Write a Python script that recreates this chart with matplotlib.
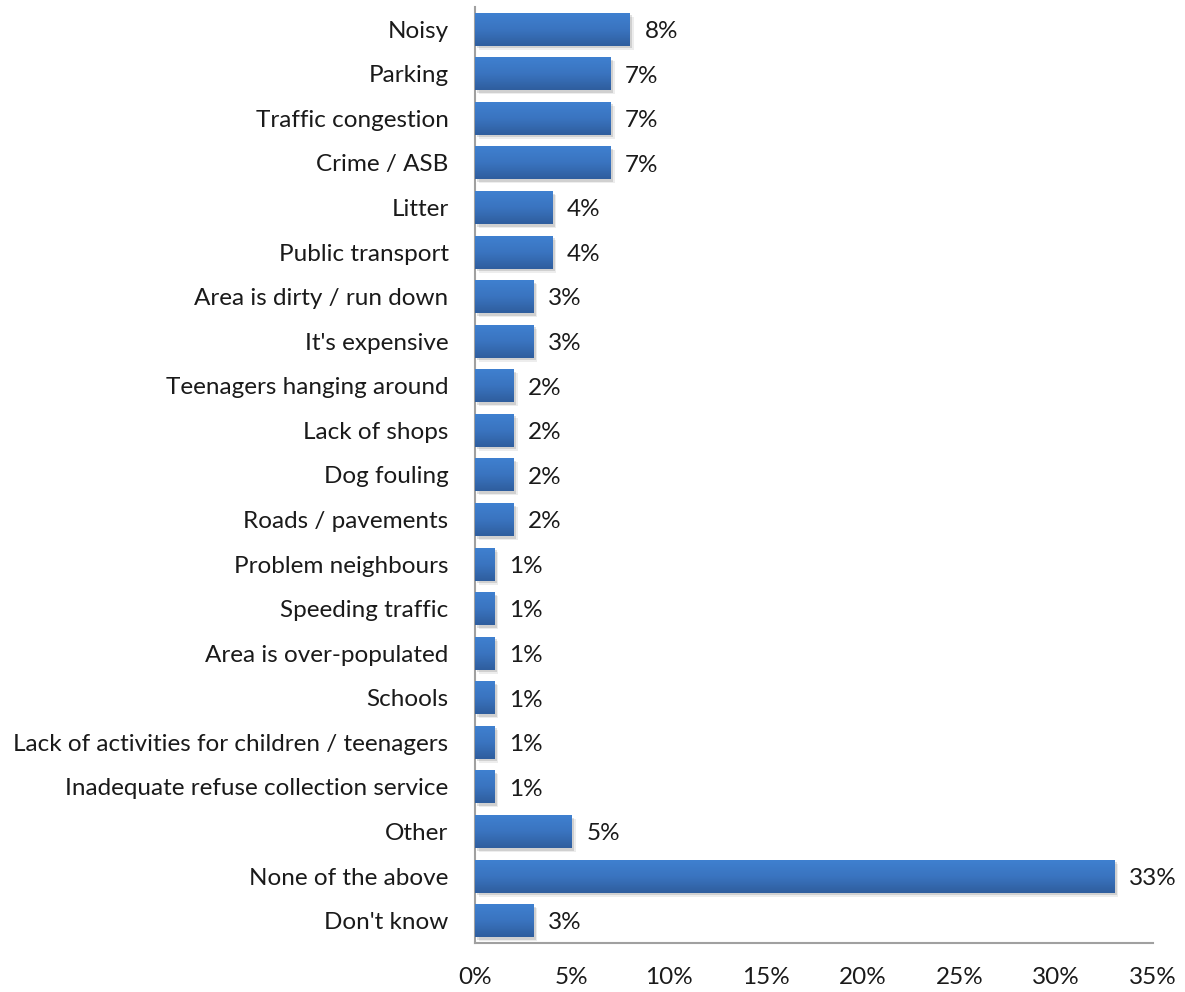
import matplotlib
matplotlib.use("Agg")
import matplotlib.pyplot as plt
import numpy as np
from matplotlib.transforms import ScaledTranslation

categories = [
    "Noisy", "Parking", "Traffic congestion", "Crime / ASB", "Litter",
    "Public transport", "Area is dirty / run down", "It's expensive",
    "Teenagers hanging around", "Lack of shops", "Dog fouling",
    "Roads / pavements", "Problem neighbours", "Speeding traffic",
    "Area is over-populated", "Schools",
    "Lack of activities for children / teenagers",
    "Inadequate refuse collection service", "Other", "None of the above",
    "Don't know",
]
values = [8, 7, 7, 7, 4, 4, 3, 3, 2, 2, 2, 2, 1, 1, 1, 1, 1, 1, 5, 33, 3]
xticks = [0, 5, 10, 15, 20, 25, 30, 35]

plt.rcParams["font.family"] = ["Lato", "DejaVu Sans"]
FS = 17.5

fig = plt.figure(figsize=(11.85, 9.92), dpi=100)
ax = fig.add_axes([0.4008, 0.0494, 0.5722, 0.9436])

y = np.arange(len(categories))
bar_h = 0.74

# soft drop shadow behind each bar (two layers for a feathered edge)
for off, a in ((2.5, 0.12), (4.0, 0.07)):
    shadow = ScaledTranslation(off / 100, -off / 100, fig.dpi_scale_trans)
    for yi, v in zip(y, values):
        ax.barh(yi, v, height=bar_h, color="#000000", alpha=a,
                transform=ax.transData + shadow, zorder=1, linewidth=0)

bars = ax.barh(y, values, height=bar_h, color="#3a74c0", zorder=2, linewidth=0)

# vertical gradient fill: lighter at top, darker at bottom
grad = np.linspace(0, 1, 64).reshape(-1, 1)
cmap = matplotlib.colors.LinearSegmentedColormap.from_list(
    "barfill", ["#3f80d0", "#3a74c0", "#2f5e9e"])
for rect in bars:
    x0, y0 = rect.get_x(), rect.get_y()
    w, h = rect.get_width(), rect.get_height()
    im = ax.imshow(grad, cmap=cmap, aspect="auto", origin="upper",
                   extent=[x0, x0 + w, y0 + h, y0], zorder=3)
    im.set_clip_path(rect)

for yi, v in zip(y, values):
    ax.text(v + 0.75, yi + 0.05, f"{v}%", va="center", ha="left",
            fontsize=FS, color="#1a1a1a", zorder=4)

ax.set_xlim(0, 35)
ax.set_ylim(len(categories) - 0.5, -0.5)
ax.set_yticks(y)
ax.set_yticklabels(categories, fontsize=FS, color="#1a1a1a")
ax.set_xticks(xticks)
ax.set_xticklabels([f"{t}%" for t in xticks], fontsize=FS, color="#1a1a1a")
ax.tick_params(axis="y", length=0, pad=19)
ax.tick_params(axis="x", length=0, pad=17)

for side in ("top", "right"):
    ax.spines[side].set_visible(False)
for side in ("left", "bottom"):
    ax.spines[side].set_color("#a0a0a0")
    ax.spines[side].set_linewidth(1.5)

fig.savefig("out.png", dpi=100)
